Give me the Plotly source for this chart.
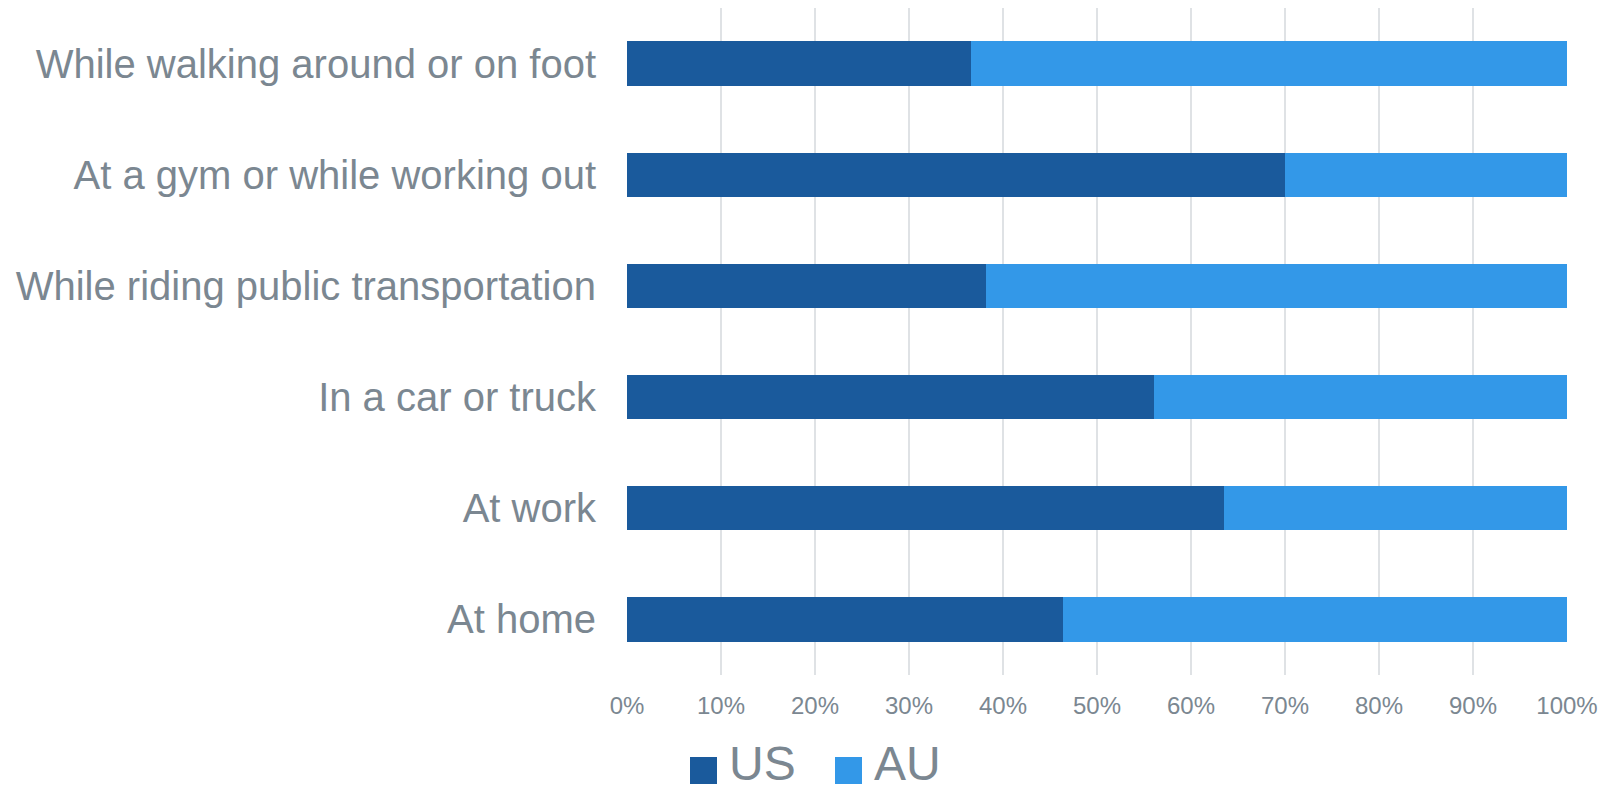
import plotly.graph_objects as go

categories = [
    "While walking around or on foot",
    "At a gym or while working out",
    "While riding public transportation",
    "In a car or truck",
    "At work",
    "At home",
]
series_names = ["US", "AU"]
us_values = [36.6, 70.0, 38.2, 56.1, 63.5, 46.4]
au_values = [63.4, 30.0, 61.8, 43.9, 36.5, 53.6]
tick_values = [0, 10, 20, 30, 40, 50, 60, 70, 80, 90, 100]
tick_labels = ["0%", "10%", "20%", "30%", "40%", "50%", "60%", "70%", "80%", "90%", "100%"]

colors = ["#1a5a9c", "#3398e8"]
text_color = "#7b8791"
font_family = "Liberation Sans, Arial, sans-serif"

fig = go.Figure()
for name, vals, col in zip(series_names, [us_values, au_values], colors):
    fig.add_trace(go.Bar(
        y=categories, x=vals, name=name, orientation="h",
        marker=dict(color=col, line=dict(width=0)),
        showlegend=False,
    ))

fig.update_layout(
    barmode="stack",
    bargap=0.6,
    width=1611, height=792,
    margin=dict(l=627, r=44, t=8, b=117),
    paper_bgcolor="white", plot_bgcolor="white",
    font=dict(family=font_family, color=text_color),
    xaxis=dict(
        range=[0, 100], tickvals=tick_values, ticktext=tick_labels,
        showgrid=True, gridcolor="#dfe2e5", gridwidth=2,
        zeroline=False, showline=False, ticks="",
        tickfont=dict(size=24, color=text_color),
        ticklabelstandoff=14,
    ),
    yaxis=dict(
        autorange="reversed", showgrid=False, zeroline=False, showline=False,
        ticks="", tickfont=dict(size=40, color=text_color),
        ticklabelstandoff=30,
    ),
)

# custom legend (large swatches like the reference)
legend_x = [690, 835]
for i, (name, col) in enumerate(zip(series_names, colors)):
    x0 = legend_x[i]
    fig.add_shape(type="rect", xref="paper", yref="paper",
                  x0=(x0 - 627) / 940, x1=(x0 + 27 - 627) / 940,
                  y0=-(784 - 675) / 667, y1=-(757 - 675) / 667,
                  fillcolor=col, line=dict(width=0))
    fig.add_annotation(text=name, xref="paper", yref="paper",
                       x=(x0 + 38 - 627) / 940, y=-(791 - 675) / 667,
                       xanchor="left", yanchor="bottom", showarrow=False,
                       borderpad=0,
                       font=dict(size=48, color=text_color, family=font_family))

fig.write_html("out.html", config={"displayModeBar": False},
               post_script="document.body.style.margin='0';document.body.style.overflow='hidden';")
